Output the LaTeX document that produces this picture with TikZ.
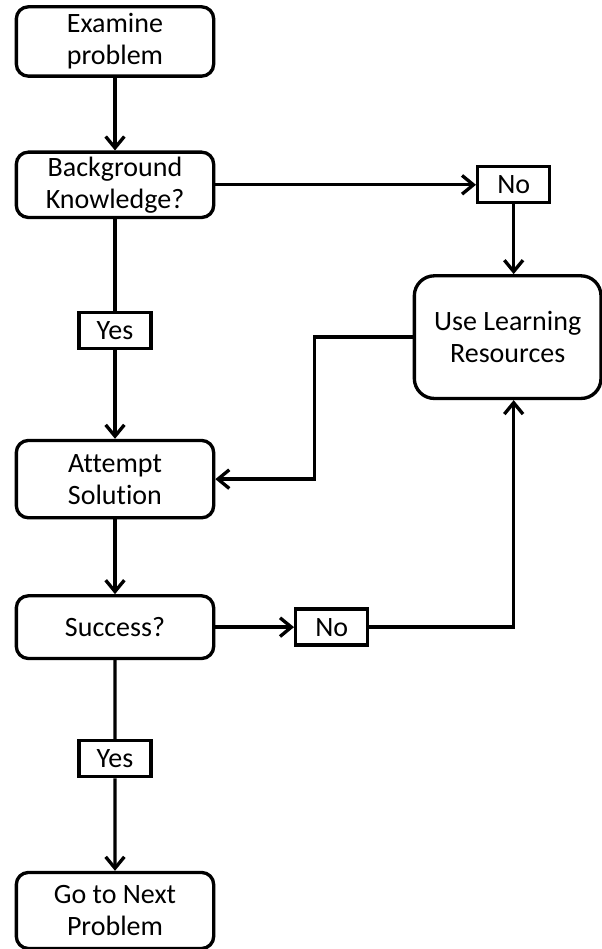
\documentclass[tikz,border=0pt]{standalone}
\usepackage{fontspec}
\setmainfont{Carlito}[Ligatures=NoCommon]
\usetikzlibrary{arrows.meta,positioning,calc,shadows}

\begin{document}
\begin{tikzpicture}[>={Straight Barb[length=8.5pt,width=14pt]},line width=2.5pt,font=\fontsize{21}{24}\selectfont,
  stepbox/.style={draw,rounded corners=9pt,fill=white,align=center,minimum width=148pt,inner sep=2pt,drop shadow={shadow xshift=1pt,shadow yshift=-1pt,opacity=0.3}},
  answer/.style={draw,fill=white,minimum width=54pt,minimum height=27pt,inner sep=1pt,drop shadow={shadow xshift=1pt,shadow yshift=-1pt,opacity=0.3}}]
\useasboundingbox (0,0) rectangle (451.5pt,-711.75pt);
\node[stepbox,minimum height=52pt] (ex) at (86.25pt,-31.1pt) {Examine\\problem};
\node[stepbox,minimum height=49pt,below=54.5pt of ex] (bk) {Background\\Knowledge?};
\node[stepbox,minimum height=58pt,below=164.75pt of bk] (att) {Attempt\\Solution};
\node[stepbox,minimum height=47pt,below=56pt of att] (suc) {Success?};
\node[stepbox,minimum height=57pt,below=158pt of suc] (go) {Go to Next\\Problem};
\node[answer,right=195.5pt of bk] (no1) {No};
\node[stepbox,rounded corners=15pt,minimum width=140pt,minimum height=92pt,below=52.25pt of no1,xshift=-4.5pt] (ule) {Use Learning\\Resources};
\node[answer,right=59pt of suc] (no2) {No};
\node[answer] (yes1) at ($(bk)!0.495!(att)$) {Yes};
\node[answer] (yes2) at ($(suc)!0.464!(go)$) {Yes};
\draw[->] (ex) -- (bk);
\draw[->] (bk) -- (no1);
\draw[->] (no1) -- (no1 |- ule.north);
\draw (bk) -- (yes1);
\draw[->] (yes1) -- (att);
\draw[->] (ule.west) -- ++(-73.5pt,0) |- (att.east);
\draw[->] (att) -- (suc);
\draw[->] (suc) -- (no2);
\draw[->] (no2.east) -| (no1 |- ule.south);
\draw (suc) -- (yes2);
\draw[->] (yes2) -- (go);
\end{tikzpicture}
\end{document}
